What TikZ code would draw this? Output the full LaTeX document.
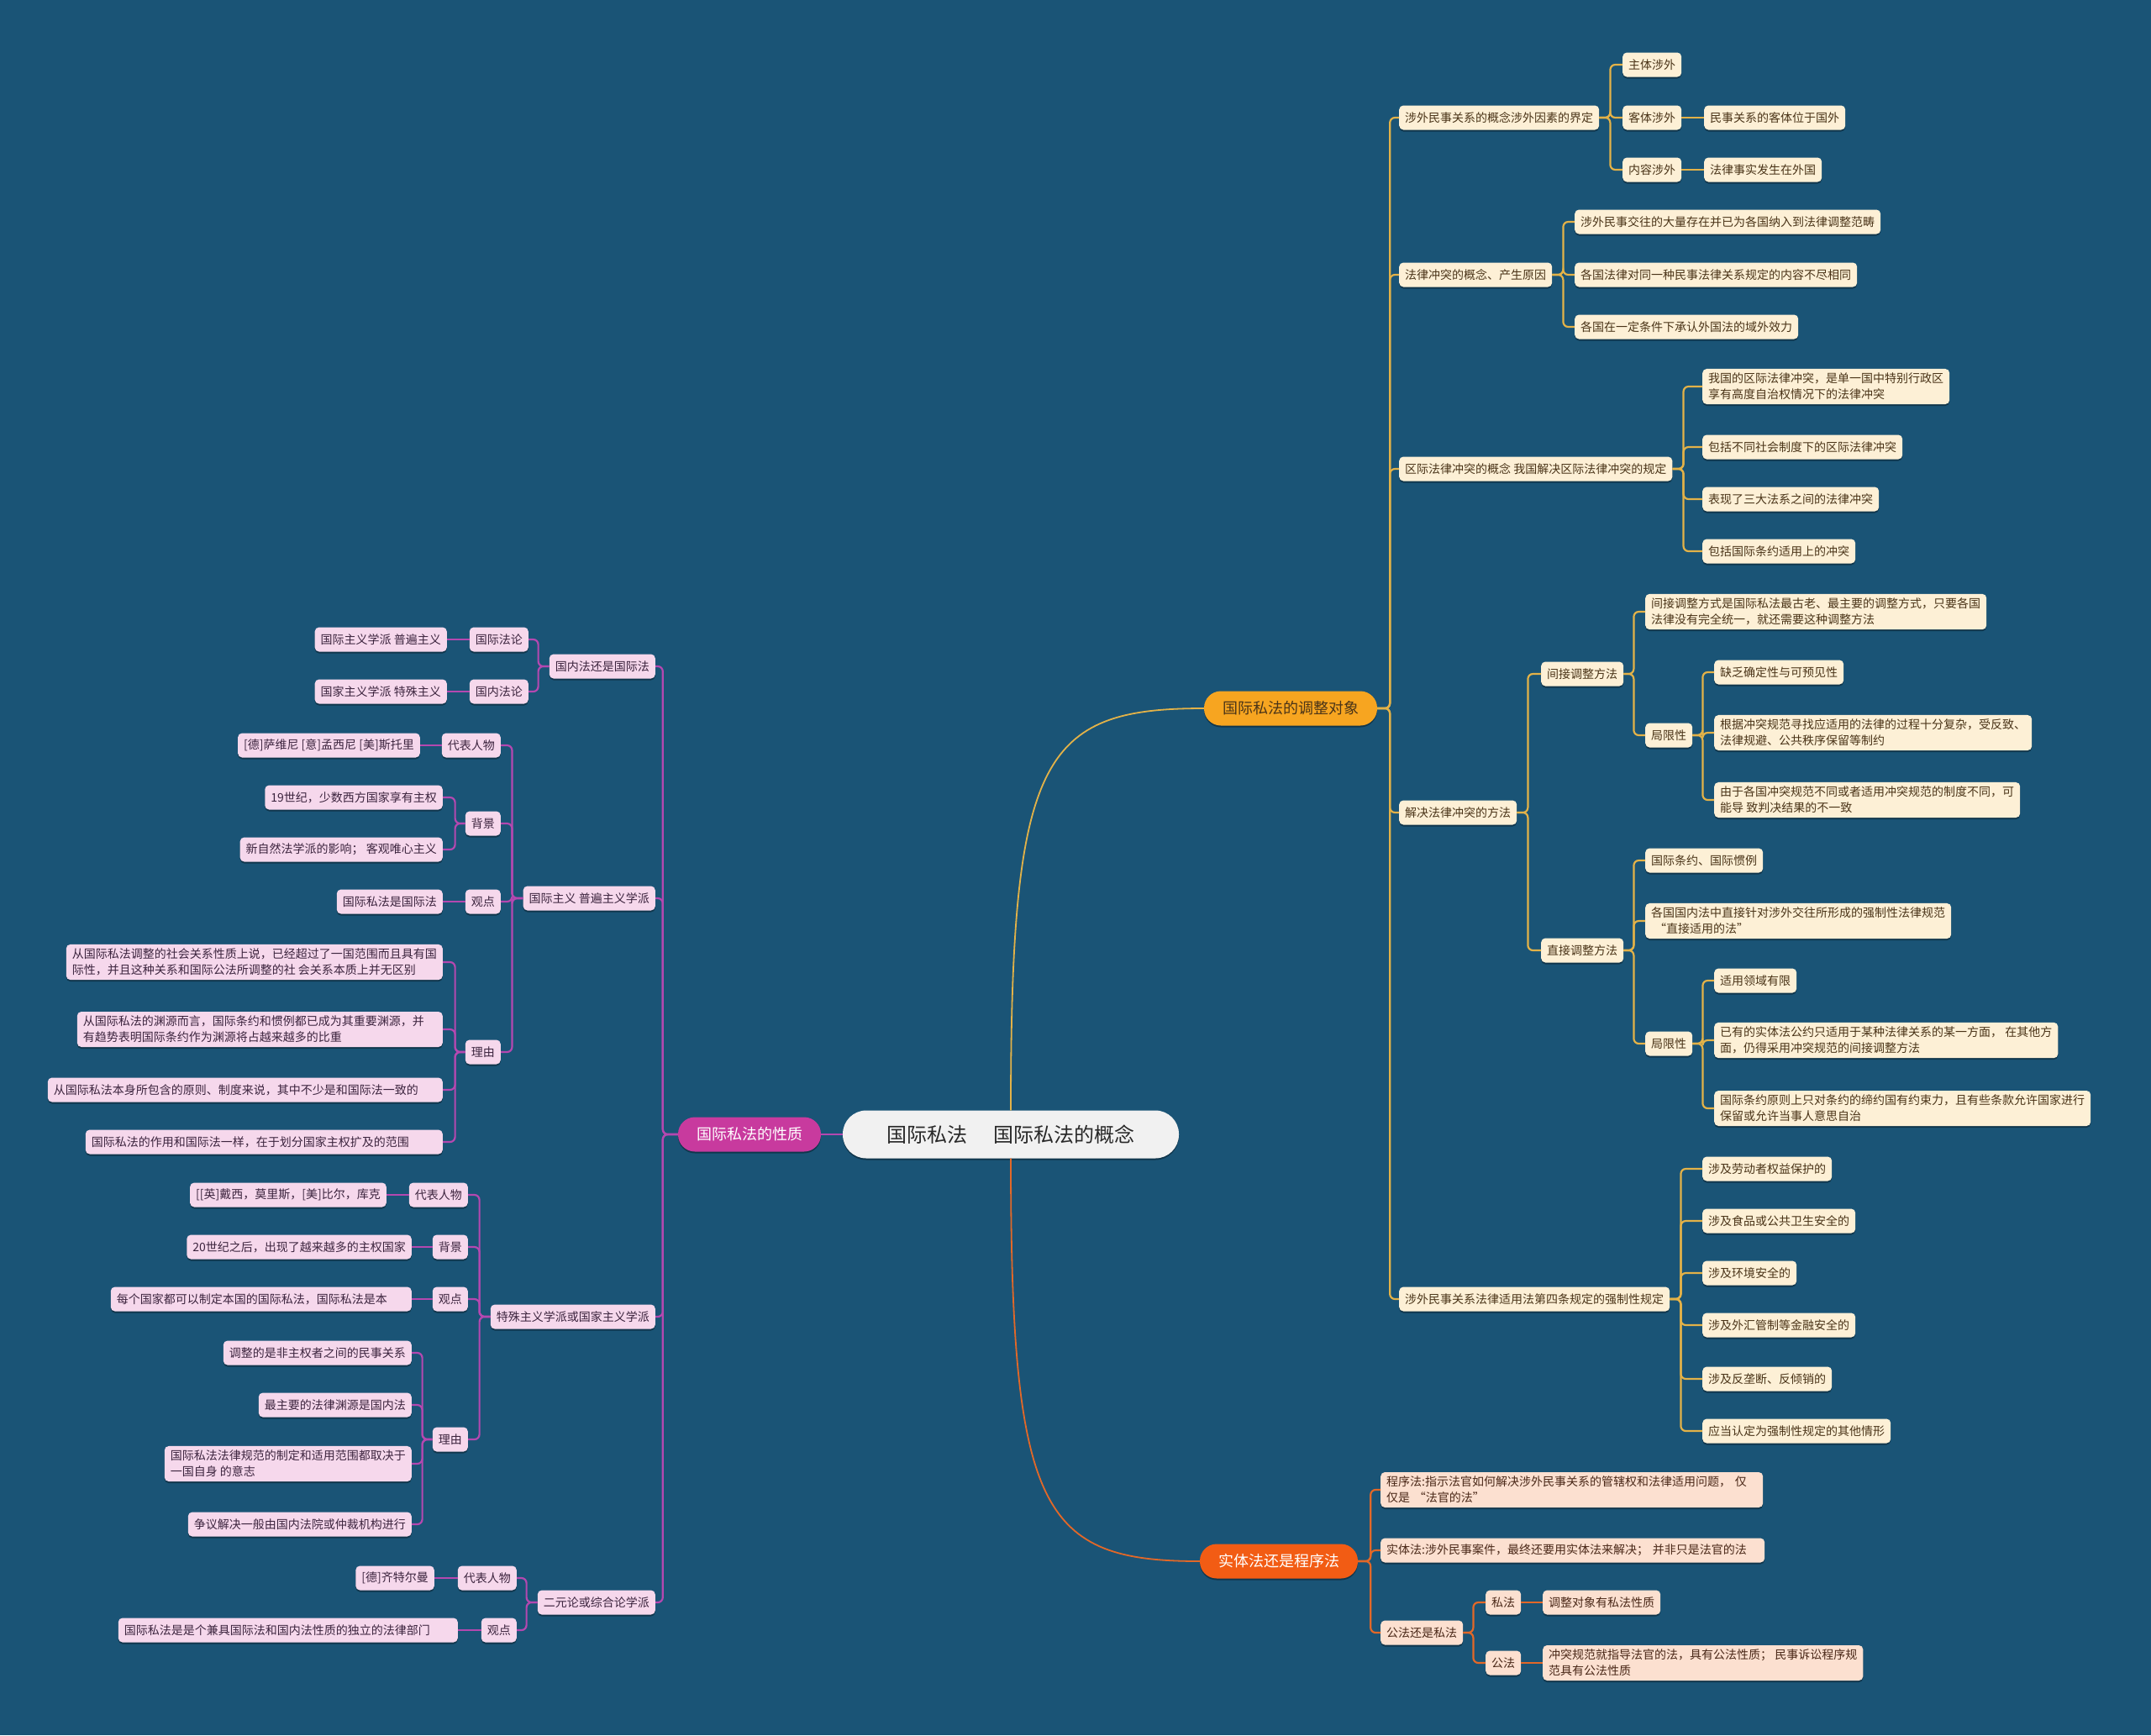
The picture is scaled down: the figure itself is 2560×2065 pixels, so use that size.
\documentclass[tikz,border=0pt]{standalone}
\usepackage{fontspec}
\setmainfont{Noto Sans CJK SC}
\usetikzlibrary{shadows}
\definecolor{bgblue}{RGB}{26,84,118}
\definecolor{rootfill}{RGB}{241,241,241}
\definecolor{roottext}{RGB}{40,40,40}
\definecolor{yline}{RGB}{227,178,72}
\definecolor{ytopic}{RGB}{247,165,32}
\definecolor{yfill}{RGB}{253,240,214}
\definecolor{ytext}{RGB}{74,52,24}
\definecolor{oline}{RGB}{226,104,40}
\definecolor{otopic}{RGB}{242,92,20}
\definecolor{ofill}{RGB}{252,224,208}
\definecolor{otext}{RGB}{74,40,24}
\definecolor{pline}{RGB}{180,72,176}
\definecolor{ptopic}{RGB}{200,58,158}
\definecolor{pfill}{RGB}{246,216,236}
\definecolor{ptext}{RGB}{60,36,62}

\begin{document}
\begin{tikzpicture}[x=1pt,y=-1pt]
\tikzset{
  boxshadow/.style={drop shadow={shadow xshift=0pt,shadow yshift=-2pt,opacity=0.35,fill=black}},
  rootbox/.style={rounded corners=28pt,fill=rootfill,text=roottext,minimum width=400pt,minimum height=57pt,font=\fontsize{24}{28}\selectfont,boxshadow},
  topic/.style={rounded corners=20pt,minimum height=41pt,inner xsep=22pt,font=\fontsize{18}{22}\selectfont,boxshadow},
  itembox/.style={rounded corners=5pt,minimum height=29pt,inner xsep=7pt,inner ysep=5pt,align=left,font=\fontsize{14}{19}\selectfont,boxshadow},
  yitem/.style={itembox,fill=yfill,text=ytext,anchor=west},
  oitem/.style={itembox,fill=ofill,text=otext,anchor=west},
  pitem/.style={itembox,fill=pfill,text=ptext,anchor=east},
  ylink/.style={draw=yline,line width=2.2pt,rounded corners=6pt},
  olink/.style={draw=oline,line width=2.2pt,rounded corners=6pt},
  plink/.style={draw=pline,line width=2.2pt,rounded corners=6pt}
}
\fill[bgblue] (0,0) rectangle (2560,2065);
\useasboundingbox (0,0) rectangle (2560,2065);

\node[rootbox] (n_root) at (1203,1350) {国际私法\hspace{1.3em}国际私法的概念};
\node[topic,fill=ytopic,text=ytext] (n_adj) at (1536,843) {国际私法的调整对象};
\node[topic,fill=otopic,text=white] (n_sub) at (1522,1858) {实体法还是程序法};
\node[topic,fill=ptopic,text=white] (n_nat) at (892,1350) {国际私法的性质};

\node[yitem] (n_fe) at (1665,140) {涉外民事关系的概念涉外因素的界定};
\node[yitem] (n_fe1) at (1931,77) {主体涉外};
\node[yitem] (n_fe2) at (1931,140) {客体涉外};
\node[yitem] (n_fe3) at (1931,202) {内容涉外};
\node[yitem] (n_fe2a) at (2028,140) {民事关系的客体位于国外};
\node[yitem] (n_fe3a) at (2028,202) {法律事实发生在外国};
\node[yitem] (n_lc) at (1665,327) {法律冲突的概念、产生原因};
\node[yitem] (n_lc1) at (1874,264) {涉外民事交往的大量存在并已为各国纳入到法律调整范畴};
\node[yitem] (n_lc2) at (1874,327) {各国法律对同一种民事法律关系规定的内容不尽相同};
\node[yitem] (n_lc3) at (1874,389) {各国在一定条件下承认外国法的域外效力};
\node[yitem] (n_ic) at (1665,558) {区际法律冲突的概念 我国解决区际法律冲突的规定};
\node[yitem] (n_ic1) at (2026,460) {我国的区际法律冲突，是单一国中特别行政区\\享有高度自治权情况下的法律冲突};
\node[yitem] (n_ic2) at (2026,532) {包括不同社会制度下的区际法律冲突};
\node[yitem] (n_ic3) at (2026,594) {表现了三大法系之间的法律冲突};
\node[yitem] (n_ic4) at (2026,656) {包括国际条约适用上的冲突};
\node[yitem] (n_sm) at (1665,967) {解决法律冲突的方法};
\node[yitem] (n_ind) at (1834,802) {间接调整方法};
\node[yitem] (n_ind1) at (1958,728) {间接调整方式是国际私法最古老、最主要的调整方式，只要各国\\法律没有完全统一，就还需要这种调整方法};
\node[yitem] (n_indl) at (1958,875) {局限性};
\node[yitem] (n_indl1) at (2040,800) {缺乏确定性与可预见性};
\node[yitem] (n_indl2) at (2040,872) {根据冲突规范寻找应适用的法律的过程十分复杂，受反致、\\法律规避、公共秩序保留等制约};
\node[yitem] (n_indl3) at (2040,952) {由于各国冲突规范不同或者适用冲突规范的制度不同，可\\能导 致判决结果的不一致};
\node[yitem] (n_dir) at (1834,1131) {直接调整方法};
\node[yitem] (n_dir1) at (1958,1024) {国际条约、国际惯例};
\node[yitem] (n_dir2) at (1958,1096) {各国国内法中直接针对涉外交往所形成的强制性法律规范\\\hspace{4pt}“直接适用的法”};
\node[yitem] (n_dirl) at (1958,1242) {局限性};
\node[yitem] (n_dirl1) at (2040,1167) {适用领域有限};
\node[yitem] (n_dirl2) at (2040,1238) {已有的实体法公约只适用于某种法律关系的某一方面， 在其他方\\面，仍得采用冲突规范的间接调整方法};
\node[yitem] (n_dirl3) at (2040,1319) {国际条约原则上只对条约的缔约国有约束力，且有些条款允许国家进行\\保留或允许当事人意思自治};
\node[yitem] (n_mr) at (1665,1546) {涉外民事关系法律适用法第四条规定的强制性规定};
\node[yitem] (n_mr1) at (2026,1391) {涉及劳动者权益保护的};
\node[yitem] (n_mr2) at (2026,1453) {涉及食品或公共卫生安全的};
\node[yitem] (n_mr3) at (2026,1515) {涉及环境安全的};
\node[yitem] (n_mr4) at (2026,1577) {涉及外汇管制等金融安全的};
\node[yitem] (n_mr5) at (2026,1641) {涉及反垄断、反倾销的};
\node[yitem] (n_mr6) at (2026,1703) {应当认定为强制性规定的其他情形};

\node[oitem,text width=441pt] (n_pr) at (1643,1773) {程序法:指示法官如何解决涉外民事关系的管辖权和法律适用问题， 仅\\仅是 “法官的法”};
\node[oitem,text width=443pt] (n_sb) at (1643,1845) {实体法:涉外民事案件，最终还要用实体法来解决； 并非只是法官的法};
\node[oitem] (n_pp) at (1643,1943) {公法还是私法};
\node[oitem] (n_pv) at (1768,1907) {私法};
\node[oitem] (n_pb) at (1768,1979) {公法};
\node[oitem] (n_pv1) at (1836,1907) {调整对象有私法性质};
\node[oitem] (n_pb1) at (1836,1979) {冲突规范就指导法官的法，具有公法性质； 民事诉讼程序规\\范具有公法性质};

\node[pitem] (n_dv) at (780,793) {国内法还是国际法};
\node[pitem] (n_dv1) at (629,761) {国际法论};
\node[pitem] (n_dv2) at (629,823) {国内法论};
\node[pitem] (n_dv1a) at (532,761) {国际主义学派 普遍主义};
\node[pitem] (n_dv2a) at (532,823) {国家主义学派 特殊主义};
\node[pitem] (n_un) at (780,1069) {国际主义 普遍主义学派};
\node[pitem] (n_unr) at (596,887) {代表人物};
\node[pitem] (n_unb) at (596,980) {背景};
\node[pitem] (n_unv) at (596,1073) {观点};
\node[pitem] (n_unz) at (596,1252) {理由};
\node[pitem] (n_unr1) at (500,887) {[德]萨维尼 [意]孟西尼 [美]斯托里};
\node[pitem] (n_unb1) at (527,949) {19世纪，少数西方国家享有主权};
\node[pitem] (n_unb2) at (527,1011) {新自然法学派的影响； 客观唯心主义};
\node[pitem] (n_unv1) at (527,1073) {国际私法是国际法};
\node[pitem] (n_unz1) at (527,1145) {从国际私法调整的社会关系性质上说，已经超过了一国范围而且具有国\\际性，并且这种关系和国际公法所调整的社 会关系本质上并无区别};
\node[pitem,text width=421pt] (n_unz2) at (527,1225) {从国际私法的渊源而言，国际条约和惯例都已成为其重要渊源，并\\有趋势表明国际条约作为渊源将占越来越多的比重};
\node[pitem,text width=456pt] (n_unz3) at (527,1297) {从国际私法本身所包含的原则、制度来说，其中不少是和国际法一致的};
\node[pitem,text width=411pt] (n_unz4) at (527,1359) {国际私法的作用和国际法一样，在于划分国家主权扩及的范围};
\node[pitem] (n_pa) at (780,1567) {特殊主义学派或国家主义学派};
\node[pitem] (n_par) at (557,1422) {代表人物};
\node[pitem] (n_pab) at (557,1484) {背景};
\node[pitem] (n_pav) at (557,1546) {观点};
\node[pitem] (n_paz) at (557,1713) {理由};
\node[pitem] (n_par1) at (460,1422) {[[英]戴西，莫里斯，[美]比尔，库克};
\node[pitem] (n_pab1) at (490,1484) {20世纪之后，出现了越来越多的主权国家};
\node[pitem,text width=344pt] (n_pav1) at (490,1546) {每个国家都可以制定本国的国际私法，国际私法是本};
\node[pitem] (n_paz1) at (490,1610) {调整的是非主权者之间的民事关系};
\node[pitem] (n_paz2) at (490,1672) {最主要的法律渊源是国内法};
\node[pitem] (n_paz3) at (490,1742) {国际私法法律规范的制定和适用范围都取决于\\一国自身 的意志};
\node[pitem] (n_paz4) at (490,1814) {争议解决一般由国内法院或仲裁机构进行};
\node[pitem] (n_du) at (780,1907) {二元论或综合论学派};
\node[pitem] (n_dur) at (615,1878) {代表人物};
\node[pitem] (n_duv) at (615,1940) {观点};
\node[pitem] (n_dur1) at (517,1878) {[德]齐特尔曼};
\node[pitem,text width=390pt] (n_duv1) at (545,1940) {国际私法是是个兼具国际法和国内法性质的独立的法律部门};

\draw[ylink,line width=1.8pt] (n_root.north) .. controls (1203,900) and (1240,843) .. (n_adj.west);
\draw[olink,line width=1.8pt] (n_root.south) .. controls (1203,1800) and (1240,1858) .. (n_sub.west);
\draw[plink,line width=1.8pt] (n_root.west) -- (n_nat.east);

\draw[ylink] (n_adj.east) -- ++(15,0) |- (n_fe.west);
\draw[ylink] (n_adj.east) -- ++(15,0) |- (n_lc.west);
\draw[ylink] (n_adj.east) -- ++(15,0) |- (n_ic.west);
\draw[ylink] (n_adj.east) -- ++(15,0) |- (n_sm.west);
\draw[ylink] (n_adj.east) -- ++(15,0) |- (n_mr.west);
\draw[ylink] (n_fe.east) -- ++(13,0) |- (n_fe1.west);
\draw[ylink] (n_fe.east) -- ++(13,0) |- (n_fe2.west);
\draw[ylink] (n_fe.east) -- ++(13,0) |- (n_fe3.west);
\draw[ylink] (n_fe2.east) -- (n_fe2a.west);
\draw[ylink] (n_fe3.east) -- (n_fe3a.west);
\draw[ylink] (n_lc.east) -- ++(13,0) |- (n_lc1.west);
\draw[ylink] (n_lc.east) -- ++(13,0) |- (n_lc2.west);
\draw[ylink] (n_lc.east) -- ++(13,0) |- (n_lc3.west);
\draw[ylink] (n_ic.east) -- ++(13,0) |- (n_ic1.west);
\draw[ylink] (n_ic.east) -- ++(13,0) |- (n_ic2.west);
\draw[ylink] (n_ic.east) -- ++(13,0) |- (n_ic3.west);
\draw[ylink] (n_ic.east) -- ++(13,0) |- (n_ic4.west);
\draw[ylink] (n_sm.east) -- ++(13,0) |- (n_ind.west);
\draw[ylink] (n_sm.east) -- ++(13,0) |- (n_dir.west);
\draw[ylink] (n_ind.east) -- ++(12,0) |- (n_ind1.west);
\draw[ylink] (n_ind.east) -- ++(12,0) |- (n_indl.west);
\draw[ylink] (n_indl.east) -- ++(12,0) |- (n_indl1.west);
\draw[ylink] (n_indl.east) -- ++(12,0) |- (n_indl2.west);
\draw[ylink] (n_indl.east) -- ++(12,0) |- (n_indl3.west);
\draw[ylink] (n_dir.east) -- ++(12,0) |- (n_dir1.west);
\draw[ylink] (n_dir.east) -- ++(12,0) |- (n_dir2.west);
\draw[ylink] (n_dir.east) -- ++(12,0) |- (n_dirl.west);
\draw[ylink] (n_dirl.east) -- ++(12,0) |- (n_dirl1.west);
\draw[ylink] (n_dirl.east) -- ++(12,0) |- (n_dirl2.west);
\draw[ylink] (n_dirl.east) -- ++(12,0) |- (n_dirl3.west);
\draw[ylink] (n_mr.east) -- ++(13,0) |- (n_mr1.west);
\draw[ylink] (n_mr.east) -- ++(13,0) |- (n_mr2.west);
\draw[ylink] (n_mr.east) -- ++(13,0) |- (n_mr3.west);
\draw[ylink] (n_mr.east) -- ++(13,0) |- (n_mr4.west);
\draw[ylink] (n_mr.east) -- ++(13,0) |- (n_mr5.west);
\draw[ylink] (n_mr.east) -- ++(13,0) |- (n_mr6.west);

\draw[olink] (n_sub.east) -- ++(15,0) |- (n_pr.west);
\draw[olink] (n_sub.east) -- ++(15,0) |- (n_sb.west);
\draw[olink] (n_sub.east) -- ++(15,0) |- (n_pp.west);
\draw[olink] (n_pp.east) -- ++(12,0) |- (n_pv.west);
\draw[olink] (n_pp.east) -- ++(12,0) |- (n_pb.west);
\draw[olink] (n_pv.east) -- (n_pv1.west);
\draw[olink] (n_pb.east) -- (n_pb1.west);

\draw[plink] (n_nat.west) -- ++(-18,0) |- (n_dv.east);
\draw[plink] (n_nat.west) -- ++(-18,0) |- (n_un.east);
\draw[plink] (n_nat.west) -- ++(-18,0) |- (n_pa.east);
\draw[plink] (n_nat.west) -- ++(-18,0) |- (n_du.east);
\draw[plink] (n_dv.west) -- ++(-13,0) |- (n_dv1.east);
\draw[plink] (n_dv.west) -- ++(-13,0) |- (n_dv2.east);
\draw[plink] (n_dv1.west) -- (n_dv1a.east);
\draw[plink] (n_dv2.west) -- (n_dv2a.east);
\draw[plink] (n_un.west) -- ++(-13,0) |- (n_unr.east);
\draw[plink] (n_un.west) -- ++(-13,0) |- (n_unb.east);
\draw[plink] (n_un.west) -- ++(-13,0) |- (n_unv.east);
\draw[plink] (n_un.west) -- ++(-13,0) |- (n_unz.east);
\draw[plink] (n_unr.west) -- (n_unr1.east);
\draw[plink] (n_unb.west) -- ++(-12,0) |- (n_unb1.east);
\draw[plink] (n_unb.west) -- ++(-12,0) |- (n_unb2.east);
\draw[plink] (n_unv.west) -- (n_unv1.east);
\draw[plink] (n_unz.west) -- ++(-12,0) |- (n_unz1.east);
\draw[plink] (n_unz.west) -- ++(-12,0) |- (n_unz2.east);
\draw[plink] (n_unz.west) -- ++(-12,0) |- (n_unz3.east);
\draw[plink] (n_unz.west) -- ++(-12,0) |- (n_unz4.east);
\draw[plink] (n_pa.west) -- ++(-13,0) |- (n_par.east);
\draw[plink] (n_pa.west) -- ++(-13,0) |- (n_pab.east);
\draw[plink] (n_pa.west) -- ++(-13,0) |- (n_pav.east);
\draw[plink] (n_pa.west) -- ++(-13,0) |- (n_paz.east);
\draw[plink] (n_par.west) -- (n_par1.east);
\draw[plink] (n_pab.west) -- (n_pab1.east);
\draw[plink] (n_pav.west) -- (n_pav1.east);
\draw[plink] (n_paz.west) -- ++(-12,0) |- (n_paz1.east);
\draw[plink] (n_paz.west) -- ++(-12,0) |- (n_paz2.east);
\draw[plink] (n_paz.west) -- ++(-12,0) |- (n_paz3.east);
\draw[plink] (n_paz.west) -- ++(-12,0) |- (n_paz4.east);
\draw[plink] (n_du.west) -- ++(-13,0) |- (n_dur.east);
\draw[plink] (n_du.west) -- ++(-13,0) |- (n_duv.east);
\draw[plink] (n_dur.west) -- (n_dur1.east);
\draw[plink] (n_duv.west) -- (n_duv1.east);
\end{tikzpicture}
\end{document}
